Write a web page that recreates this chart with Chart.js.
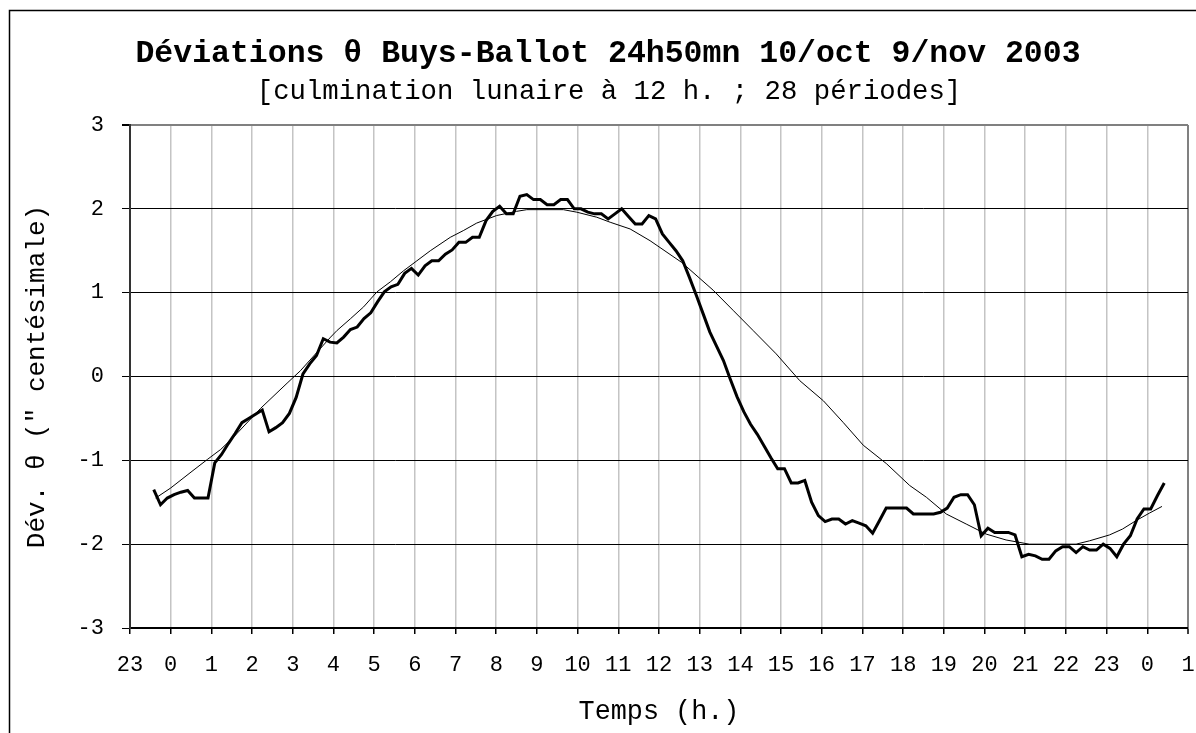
<!DOCTYPE html>
<html><head><meta charset="utf-8">
<script src="https://cdn.jsdelivr.net/npm/chart.js@4/dist/chart.umd.min.js"></script>
<style>html,body{margin:0;padding:0;background:#fff}#wrap{width:1196px;height:733px;position:relative}</style>
</head><body><div id="wrap"><canvas id="c" width="1196" height="733"></canvas></div>
<script>
const titleText = "Déviations θ Buys-Ballot 24h50mn 10/oct 9/nov 2003";
const subtitleText = "[culmination lunaire à 12 h. ; 28 périodes]";
const xTitle = "Temps (h.)";
const yTitle = "Dév. θ (\" centésimale)";

// x axis: hour ticks from -1 to 25, labelled with clock hour
const tickLabels = ["23","0","1","2","3","4","5","6","7","8","9","10","11","12","13","14","15","16","17","18","19","20","21","22","23","0","1"];

// observed deviations, one value every 10 minutes over 24h50mn
const obsStartHour = -5/12;
const obsStepHour = 1/6;
const observed = [
 -1.35,-1.53,-1.45,-1.41,-1.38,-1.36,-1.45,-1.45,-1.45,-1.03,
 -0.93,-0.80,-0.68,-0.55,-0.50,-0.45,-0.40,-0.66,-0.61,-0.55,
 -0.44,-0.25,0.03,0.15,0.25,0.45,0.41,0.40,0.47,0.56,
 0.59,0.69,0.76,0.89,1.01,1.07,1.10,1.23,1.29,1.21,
 1.32,1.38,1.38,1.46,1.51,1.60,1.60,1.66,1.66,1.86,
 1.97,2.03,1.94,1.94,2.15,2.17,2.11,2.11,2.05,2.05,
 2.11,2.11,2.00,2.00,1.96,1.94,1.94,1.88,1.94,2.00,
 1.91,1.82,1.82,1.92,1.88,1.70,1.60,1.50,1.38,1.18,
 0.97,0.75,0.53,0.36,0.19,-0.03,-0.24,-0.42,-0.57,-0.69,
 -0.83,-0.97,-1.10,-1.10,-1.27,-1.27,-1.24,-1.50,-1.66,-1.73,
 -1.70,-1.70,-1.76,-1.72,-1.75,-1.78,-1.87,-1.72,-1.57,-1.57,
 -1.57,-1.57,-1.64,-1.64,-1.64,-1.64,-1.62,-1.57,-1.44,-1.41,
 -1.41,-1.53,-1.90,-1.81,-1.86,-1.86,-1.86,-1.89,-2.15,-2.12,
 -2.14,-2.18,-2.18,-2.08,-2.03,-2.03,-2.10,-2.03,-2.07,-2.07,
 -2.00,-2.05,-2.15,-2.00,-1.90,-1.70,-1.58,-1.58,-1.42,-1.27
];

// fitted (smooth) curve, read at these hours
const fitHours = [-0.37,0.0,0.5,0.9,1.23,1.55,2.21,2.86,3.19,3.93,4.09,4.42,4.74,5.07,5.40,5.72,6.05,6.38,6.87,7.19,7.52,8.01,8.50,8.75,9.65,9.98,10.47,10.80,11.29,11.78,12.56,13.33,13.82,14.31,14.88,15.46,16.04,16.53,17.02,17.59,18.16,18.57,19.06,19.55,20.04,20.53,21.10,22.25,22.58,23.07,23.39,23.72,24.05,24.36];
const fitValues = [-1.45,-1.33,-1.14,-0.99,-0.87,-0.72,-0.38,-0.08,0.07,0.47,0.55,0.69,0.83,1.01,1.13,1.26,1.38,1.50,1.66,1.74,1.83,1.92,1.97,1.99,1.99,1.96,1.90,1.84,1.76,1.62,1.36,1.03,0.79,0.55,0.27,-0.05,-0.29,-0.55,-0.82,-1.04,-1.30,-1.44,-1.64,-1.76,-1.88,-1.95,-2.00,-2.00,-1.96,-1.89,-1.82,-1.72,-1.63,-1.55];

const MONO = "'Liberation Mono', 'Courier New', monospace";

const framePlugin = {
  id: 'frameAndTitle',
  beforeDraw(chart) {
    const c = chart.ctx;
    c.save(); c.fillStyle = '#fff'; c.fillRect(0, 0, chart.width, chart.height); c.restore();
  },
  afterDraw(chart) {
    const c = chart.ctx;
    c.save();
    c.strokeStyle = '#000'; c.lineWidth = 1.5;
    c.strokeRect(9.5, 10.5, 1300, 1000);
    c.fillStyle = '#000';
    c.textAlign = 'center'; c.textBaseline = 'alphabetic';
    c.font = "bold 31.5px " + MONO;
    c.fillText(titleText, 608, 62);
    c.font = "27.3px " + MONO;
    c.fillText(subtitleText, 609, 99);
    c.restore();
  }
};

new Chart(document.getElementById('c'), {
  type: 'line',
  data: {
    datasets: [
      {
        label: 'fit',
        data: fitHours.map((h, i) => ({x: h, y: fitValues[i]})),
        borderColor: '#000', borderWidth: 1, pointRadius: 0, tension: 0, fill: false
      },
      {
        label: 'observed',
        data: observed.map((v, i) => ({x: obsStartHour + i * obsStepHour, y: v})),
        borderColor: '#000', borderWidth: 3, pointRadius: 0, tension: 0, fill: false,
        borderJoinStyle: 'miter'
      }
    ]
  },
  options: {
    responsive: false, animation: false, devicePixelRatio: 1,
    layout: { padding: { top: 125, right: 8, bottom: 0, left: 0 } },
    plugins: { legend: { display: false }, tooltip: { enabled: false }, title: { display: false } },
    scales: {
      x: {
        type: 'linear', min: -1, max: 25,
        ticks: {
          stepSize: 1, autoSkip: false, maxRotation: 0, minRotation: 0,
          color: '#000', padding: 18, font: { family: MONO, size: 22 },
          callback: (v) => tickLabels[Math.round(v) + 1]
        },
        grid: {
          color: (ctx) => ctx.tick && ctx.tick.value === 25 ? '#808080' : '#c4c4c4',
          lineWidth: (ctx) => ctx.tick && ctx.tick.value === 25 ? 2 : 1.5,
          tickColor: '#000', tickLength: 6, tickWidth: 1.5
        },
        border: { color: '#000', width: 2 },
        title: { display: true, text: xTitle, color: '#000', font: { family: MONO, size: 26.8 }, padding: { top: 0, bottom: 5 } },
        afterFit: (s) => { s.height = 105; s.paddingRight = 0; s.paddingLeft = 0; }
      },
      y: {
        min: -3, max: 3,
        ticks: { stepSize: 1, color: '#000', padding: 18, font: { family: MONO, size: 22 } },
        grid: {
          color: (ctx) => ctx.tick && ctx.tick.value === 3 ? '#808080' : '#000',
          lineWidth: (ctx) => ctx.tick && ctx.tick.value === 3 ? 2 : 1,
          tickColor: '#000', tickLength: 8
        },
        border: { color: '#333', width: 2 },
        title: { display: true, text: yTitle, color: '#000', font: { family: MONO, size: 26 }, padding: { top: 22, bottom: 0 } },
        afterFit: (s) => { s.width = 130; }
      }
    }
  },
  plugins: [framePlugin]
});
</script>
</body></html>
